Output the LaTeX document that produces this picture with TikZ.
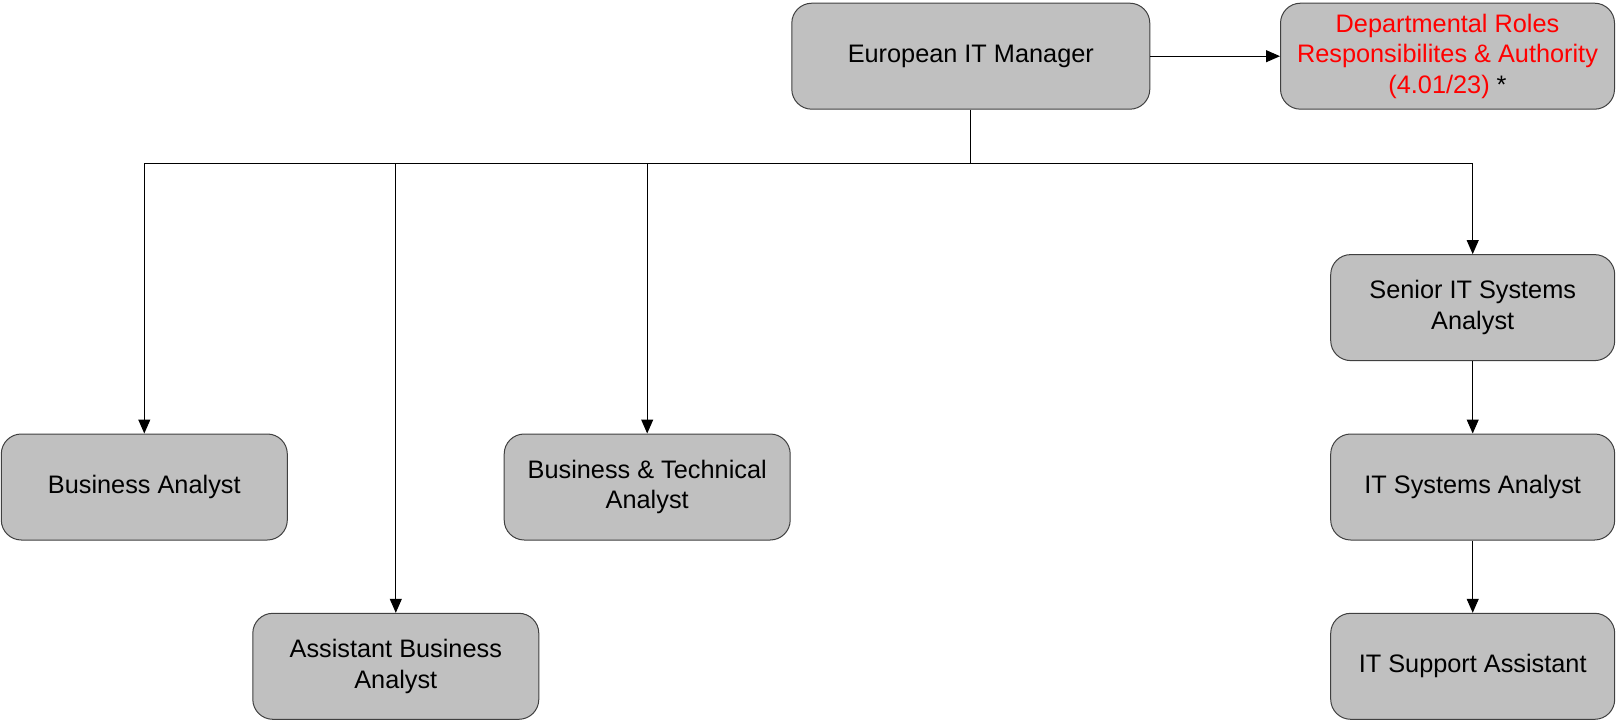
\documentclass[tikz,border=0pt]{standalone}
\usepackage{fontspec}
\setmainfont{Liberation Sans}
\usetikzlibrary{arrows.meta}
\definecolor{boxfill}{HTML}{C0C0C0}
\definecolor{boxline}{HTML}{404040}
\tikzset{
  role/.style={draw=boxline, fill=boxfill, line width=1pt, rounded corners=20pt,
    minimum width=286pt, minimum height=106pt, inner sep=0pt, align=center,
    font=\fontsize{25.3}{30.5}\selectfont},
  conn/.style={line width=1pt, draw=black},
  arr/.style={conn, -{Triangle[length=14pt,width=12pt]}}
}
\begin{document}
\begin{tikzpicture}[x=1pt,y=-1pt]
\useasboundingbox (0,0) rectangle (1616,722);
\node[role, minimum width=358pt] (eitm) at (970.8,56.2) {European IT Manager};
\node[role, minimum width=334pt] (dept) at (1447.5,56.2) {\textcolor{red}{Departmental Roles}\\\textcolor{red}{Responsibilites \& Authority}\\\textcolor{red}{(4.01/23)} *};
\node[role] (ba) at (144.3,487) {Business Analyst};
\node[role] (aba) at (395.8,666.3) {Assistant Business\\Analyst};
\node[role] (bta) at (647.2,487) {Business \& Technical\\Analyst};
\node[role, minimum width=284pt] (sitsa) at (1472.7,307.6) {Senior IT Systems\\Analyst};
\node[role, minimum width=284pt] (itsa) at (1472.7,487) {IT Systems Analyst};
\node[role, minimum width=284pt] (itsup) at (1472.7,666.3) {IT Support Assistant};
\coordinate (bus) at (970.8,163.9);
\draw[arr] (eitm) -- (dept);
\draw[conn] (eitm.south) -- (bus);
\draw[arr] (bus) -| (ba.north);
\draw[arr] (bus) -| (aba.north);
\draw[arr] (bus) -| (bta.north);
\draw[arr] (bus) -| (sitsa.north);
\draw[arr] (sitsa) -- (itsa);
\draw[arr] (itsa) -- (itsup);
\end{tikzpicture}
\end{document}
